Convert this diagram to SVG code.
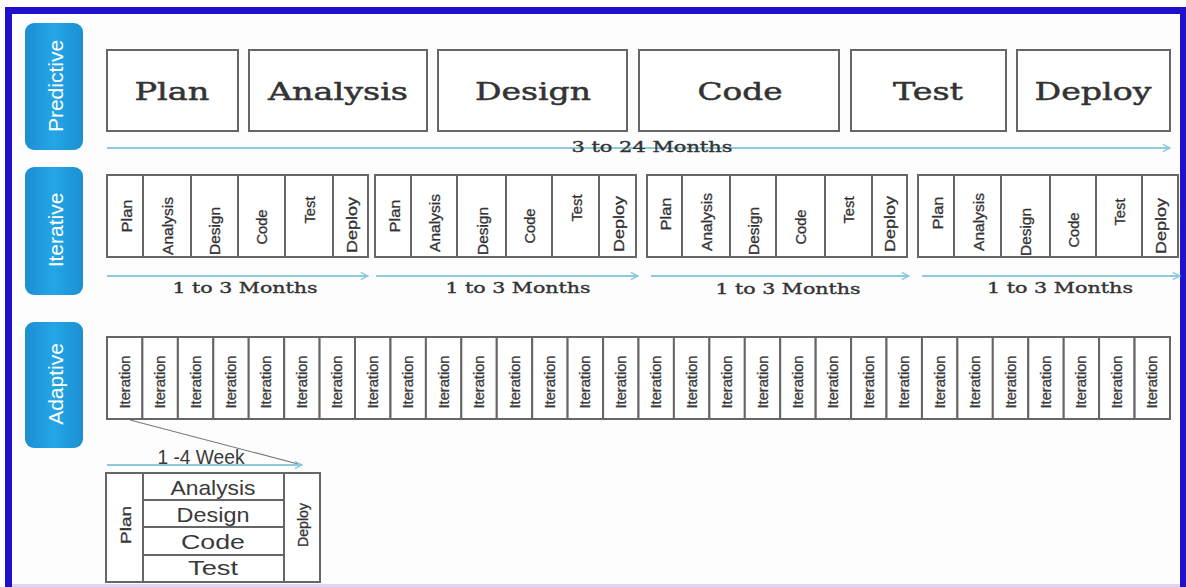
<svg xmlns="http://www.w3.org/2000/svg" width="1186" height="587" viewBox="0 0 1186 587">
  <defs>
    <linearGradient id="tabFill" x1="0" y1="0" x2="1" y2="0">
      <stop offset="0" stop-color="#1b8fd2"/>
      <stop offset="0.5" stop-color="#25a6e6"/>
      <stop offset="1" stop-color="#1b8fd2"/>
    </linearGradient>
    <marker id="chev" viewBox="0 0 10 10" refX="9" refY="5" markerWidth="9" markerHeight="9" markerUnits="userSpaceOnUse" orient="auto">
      <path d="M1,1 L9,5 L1,9" fill="none" stroke="#8ec9dc" stroke-width="1.6"/>
    </marker>
  </defs>
  <style>
    .tab { fill: url(#tabFill); }
    .tabtxt { font-family: "Liberation Sans", Arial, sans-serif; font-size: 21px; fill: #ffffff; text-anchor: middle; dominant-baseline: central; }
    .box { fill: #ffffff; stroke: #666666; stroke-width: 2; }
    .big { font-family: "DejaVu Serif", "Liberation Serif", serif; font-size: 25px; fill: #333333; stroke: #333333; stroke-width: 0.5; text-anchor: middle; }
    .dur { font-family: "DejaVu Serif", "Liberation Serif", serif; font-size: 15px; fill: #333333; stroke: #333333; stroke-width: 0.35; text-anchor: middle; }
    .vt { font-family: "Liberation Sans", Arial, sans-serif; font-size: 15px; fill: #333333; stroke: #333333; stroke-width: 0.3; text-anchor: middle; dominant-baseline: central; }
    .it { font-family: "Liberation Sans", Arial, sans-serif; font-size: 14px; fill: #3a3a3a; stroke: #3a3a3a; stroke-width: 0.3; text-anchor: middle; dominant-baseline: central; }
    .row { font-family: "Liberation Sans", Arial, sans-serif; font-size: 21px; fill: #3a3a3a; text-anchor: middle; }
    .flow { fill: none; stroke: #8ec9dc; stroke-width: 2; marker-end: url(#chev); }
    .diag { fill: none; stroke: #777777; stroke-width: 1.2; }
  </style>

  <!-- page and frame -->
  <rect x="0" y="0" width="1186" height="587" fill="#ffffff"/>
  <rect x="12" y="14" width="1168" height="570" fill="#fdfdfd"/>
  <rect x="5" y="7" width="1181" height="7" fill="#2010cc"/>
  <rect x="5" y="7" width="7" height="580" fill="#2010cc"/>
  <rect x="1180" y="7" width="6" height="580" fill="#2010cc"/>
  <rect x="12" y="584" width="1168" height="3" fill="#dcd6fa"/>

  <!-- row tabs -->
  <g id="tab-predictive">
    <rect class="tab" x="25" y="23" width="58" height="127" rx="9"/>
    <text class="tabtxt" transform="translate(55,86) rotate(-90)">Predictive</text>
  </g>
  <g id="tab-iterative">
    <rect class="tab" x="25" y="167" width="58" height="128" rx="9"/>
    <text class="tabtxt" transform="translate(55,230) rotate(-90)">Iterative</text>
  </g>
  <g id="tab-adaptive">
    <rect class="tab" x="25" y="322" width="58" height="126" rx="9"/>
    <text class="tabtxt" transform="translate(55,384) rotate(-90)">Adaptive</text>
  </g>

  <!-- predictive phases -->
  <g id="p-plan"><rect class="box" x="107" y="50" width="131" height="81"/><text class="big" x="172" y="100" textLength="75" lengthAdjust="spacingAndGlyphs">Plan</text></g>
  <g id="p-analysis"><rect class="box" x="249" y="50" width="178" height="81"/><text class="big" x="338" y="100" textLength="140" lengthAdjust="spacingAndGlyphs">Analysis</text></g>
  <g id="p-design"><rect class="box" x="438" y="50" width="189" height="81"/><text class="big" x="533" y="100" textLength="116" lengthAdjust="spacingAndGlyphs">Design</text></g>
  <g id="p-code"><rect class="box" x="639" y="50" width="200" height="81"/><text class="big" x="740" y="100" textLength="85" lengthAdjust="spacingAndGlyphs">Code</text></g>
  <g id="p-test"><rect class="box" x="851" y="50" width="155" height="81"/><text class="big" x="928" y="100" textLength="70" lengthAdjust="spacingAndGlyphs">Test</text></g>
  <g id="p-deploy"><rect class="box" x="1017" y="50" width="153" height="81"/><text class="big" x="1093" y="100" textLength="117" lengthAdjust="spacingAndGlyphs">Deploy</text></g>

  <!-- iterative cycles -->
  <g id="iter-1">
    <rect class="box" x="107" y="175" width="36" height="82"/><rect class="box" x="143" y="175" width="48" height="82"/><rect class="box" x="191" y="175" width="47" height="82"/><rect class="box" x="238" y="175" width="47" height="82"/><rect class="box" x="285" y="175" width="48" height="82"/><rect class="box" x="333" y="175" width="35" height="82"/>
    <text class="vt" transform="translate(126,216) rotate(-90)" textLength="33" lengthAdjust="spacingAndGlyphs">Plan</text>
    <text class="vt" transform="translate(167,226) rotate(-90)" textLength="58" lengthAdjust="spacingAndGlyphs">Analysis</text>
    <text class="vt" transform="translate(214,231) rotate(-90)" textLength="48" lengthAdjust="spacingAndGlyphs">Design</text>
    <text class="vt" transform="translate(261,227) rotate(-90)" textLength="35" lengthAdjust="spacingAndGlyphs">Code</text>
    <text class="vt" transform="translate(309,210) rotate(-90)" textLength="27" lengthAdjust="spacingAndGlyphs">Test</text>
    <text class="vt" transform="translate(351,225) rotate(-90)" textLength="56" lengthAdjust="spacingAndGlyphs">Deploy</text>
  </g>
  <g id="iter-2">
    <rect class="box" x="375" y="175" width="36" height="82"/><rect class="box" x="411" y="175" width="46" height="82"/><rect class="box" x="457" y="175" width="49" height="82"/><rect class="box" x="506" y="175" width="46" height="82"/><rect class="box" x="552" y="175" width="47" height="82"/><rect class="box" x="599" y="175" width="37" height="82"/>
    <text class="vt" transform="translate(394,216) rotate(-90)" textLength="33" lengthAdjust="spacingAndGlyphs">Plan</text>
    <text class="vt" transform="translate(434,223) rotate(-90)" textLength="58" lengthAdjust="spacingAndGlyphs">Analysis</text>
    <text class="vt" transform="translate(482,231) rotate(-90)" textLength="48" lengthAdjust="spacingAndGlyphs">Design</text>
    <text class="vt" transform="translate(529,226) rotate(-90)" textLength="35" lengthAdjust="spacingAndGlyphs">Code</text>
    <text class="vt" transform="translate(576,208) rotate(-90)" textLength="27" lengthAdjust="spacingAndGlyphs">Test</text>
    <text class="vt" transform="translate(618,224) rotate(-90)" textLength="56" lengthAdjust="spacingAndGlyphs">Deploy</text>
  </g>
  <g id="iter-3">
    <rect class="box" x="647" y="175" width="35" height="82"/><rect class="box" x="682" y="175" width="48" height="82"/><rect class="box" x="730" y="175" width="46" height="82"/><rect class="box" x="776" y="175" width="49" height="82"/><rect class="box" x="825" y="175" width="47" height="82"/><rect class="box" x="872" y="175" width="35" height="82"/>
    <text class="vt" transform="translate(665,214) rotate(-90)" textLength="33" lengthAdjust="spacingAndGlyphs">Plan</text>
    <text class="vt" transform="translate(706,222) rotate(-90)" textLength="58" lengthAdjust="spacingAndGlyphs">Analysis</text>
    <text class="vt" transform="translate(753,231) rotate(-90)" textLength="48" lengthAdjust="spacingAndGlyphs">Design</text>
    <text class="vt" transform="translate(800,227) rotate(-90)" textLength="35" lengthAdjust="spacingAndGlyphs">Code</text>
    <text class="vt" transform="translate(848,210) rotate(-90)" textLength="27" lengthAdjust="spacingAndGlyphs">Test</text>
    <text class="vt" transform="translate(889,224) rotate(-90)" textLength="56" lengthAdjust="spacingAndGlyphs">Deploy</text>
  </g>
  <g id="iter-4">
    <rect class="box" x="918" y="175" width="36" height="82"/><rect class="box" x="954" y="175" width="47" height="82"/><rect class="box" x="1001" y="175" width="49" height="82"/><rect class="box" x="1050" y="175" width="46" height="82"/><rect class="box" x="1096" y="175" width="46" height="82"/><rect class="box" x="1142" y="175" width="36" height="82"/>
    <text class="vt" transform="translate(937,213) rotate(-90)" textLength="33" lengthAdjust="spacingAndGlyphs">Plan</text>
    <text class="vt" transform="translate(978,222) rotate(-90)" textLength="58" lengthAdjust="spacingAndGlyphs">Analysis</text>
    <text class="vt" transform="translate(1025,232) rotate(-90)" textLength="48" lengthAdjust="spacingAndGlyphs">Design</text>
    <text class="vt" transform="translate(1073,230) rotate(-90)" textLength="35" lengthAdjust="spacingAndGlyphs">Code</text>
    <text class="vt" transform="translate(1119,212) rotate(-90)" textLength="27" lengthAdjust="spacingAndGlyphs">Test</text>
    <text class="vt" transform="translate(1160,226) rotate(-90)" textLength="56" lengthAdjust="spacingAndGlyphs">Deploy</text>
  </g>

  <!-- adaptive iterations -->
  <g id="adaptive-iterations">
    <g id="it-01"><rect class="box" x="107.0" y="337" width="35.4" height="82"/><text class="it" transform="translate(124.7,382) rotate(-90)" textLength="53" lengthAdjust="spacingAndGlyphs">Iteration</text></g>
    <g id="it-02"><rect class="box" x="142.4" y="337" width="35.4" height="82"/><text class="it" transform="translate(160.1,382) rotate(-90)" textLength="53" lengthAdjust="spacingAndGlyphs">Iteration</text></g>
    <g id="it-03"><rect class="box" x="177.9" y="337" width="35.4" height="82"/><text class="it" transform="translate(195.6,382) rotate(-90)" textLength="53" lengthAdjust="spacingAndGlyphs">Iteration</text></g>
    <g id="it-04"><rect class="box" x="213.3" y="337" width="35.4" height="82"/><text class="it" transform="translate(231.0,382) rotate(-90)" textLength="53" lengthAdjust="spacingAndGlyphs">Iteration</text></g>
    <g id="it-05"><rect class="box" x="248.7" y="337" width="35.4" height="82"/><text class="it" transform="translate(266.4,382) rotate(-90)" textLength="53" lengthAdjust="spacingAndGlyphs">Iteration</text></g>
    <g id="it-06"><rect class="box" x="284.2" y="337" width="35.4" height="82"/><text class="it" transform="translate(301.9,382) rotate(-90)" textLength="53" lengthAdjust="spacingAndGlyphs">Iteration</text></g>
    <g id="it-07"><rect class="box" x="319.6" y="337" width="35.4" height="82"/><text class="it" transform="translate(337.3,382) rotate(-90)" textLength="53" lengthAdjust="spacingAndGlyphs">Iteration</text></g>
    <g id="it-08"><rect class="box" x="355.0" y="337" width="35.4" height="82"/><text class="it" transform="translate(372.7,382) rotate(-90)" textLength="53" lengthAdjust="spacingAndGlyphs">Iteration</text></g>
    <g id="it-09"><rect class="box" x="390.5" y="337" width="35.4" height="82"/><text class="it" transform="translate(408.2,382) rotate(-90)" textLength="53" lengthAdjust="spacingAndGlyphs">Iteration</text></g>
    <g id="it-10"><rect class="box" x="425.9" y="337" width="35.4" height="82"/><text class="it" transform="translate(443.6,382) rotate(-90)" textLength="53" lengthAdjust="spacingAndGlyphs">Iteration</text></g>
    <g id="it-11"><rect class="box" x="461.3" y="337" width="35.4" height="82"/><text class="it" transform="translate(479.0,382) rotate(-90)" textLength="53" lengthAdjust="spacingAndGlyphs">Iteration</text></g>
    <g id="it-12"><rect class="box" x="496.8" y="337" width="35.4" height="82"/><text class="it" transform="translate(514.5,382) rotate(-90)" textLength="53" lengthAdjust="spacingAndGlyphs">Iteration</text></g>
    <g id="it-13"><rect class="box" x="532.2" y="337" width="35.4" height="82"/><text class="it" transform="translate(549.9,382) rotate(-90)" textLength="53" lengthAdjust="spacingAndGlyphs">Iteration</text></g>
    <g id="it-14"><rect class="box" x="567.6" y="337" width="35.4" height="82"/><text class="it" transform="translate(585.3,382) rotate(-90)" textLength="53" lengthAdjust="spacingAndGlyphs">Iteration</text></g>
    <g id="it-15"><rect class="box" x="603.1" y="337" width="35.4" height="82"/><text class="it" transform="translate(620.8,382) rotate(-90)" textLength="53" lengthAdjust="spacingAndGlyphs">Iteration</text></g>
    <g id="it-16"><rect class="box" x="638.5" y="337" width="35.4" height="82"/><text class="it" transform="translate(656.2,382) rotate(-90)" textLength="53" lengthAdjust="spacingAndGlyphs">Iteration</text></g>
    <g id="it-17"><rect class="box" x="673.9" y="337" width="35.4" height="82"/><text class="it" transform="translate(691.6,382) rotate(-90)" textLength="53" lengthAdjust="spacingAndGlyphs">Iteration</text></g>
    <g id="it-18"><rect class="box" x="709.4" y="337" width="35.4" height="82"/><text class="it" transform="translate(727.1,382) rotate(-90)" textLength="53" lengthAdjust="spacingAndGlyphs">Iteration</text></g>
    <g id="it-19"><rect class="box" x="744.8" y="337" width="35.4" height="82"/><text class="it" transform="translate(762.5,382) rotate(-90)" textLength="53" lengthAdjust="spacingAndGlyphs">Iteration</text></g>
    <g id="it-20"><rect class="box" x="780.2" y="337" width="35.4" height="82"/><text class="it" transform="translate(797.9,382) rotate(-90)" textLength="53" lengthAdjust="spacingAndGlyphs">Iteration</text></g>
    <g id="it-21"><rect class="box" x="815.7" y="337" width="35.4" height="82"/><text class="it" transform="translate(833.4,382) rotate(-90)" textLength="53" lengthAdjust="spacingAndGlyphs">Iteration</text></g>
    <g id="it-22"><rect class="box" x="851.1" y="337" width="35.4" height="82"/><text class="it" transform="translate(868.8,382) rotate(-90)" textLength="53" lengthAdjust="spacingAndGlyphs">Iteration</text></g>
    <g id="it-23"><rect class="box" x="886.5" y="337" width="35.4" height="82"/><text class="it" transform="translate(904.2,382) rotate(-90)" textLength="53" lengthAdjust="spacingAndGlyphs">Iteration</text></g>
    <g id="it-24"><rect class="box" x="922.0" y="337" width="35.4" height="82"/><text class="it" transform="translate(939.7,382) rotate(-90)" textLength="53" lengthAdjust="spacingAndGlyphs">Iteration</text></g>
    <g id="it-25"><rect class="box" x="957.4" y="337" width="35.4" height="82"/><text class="it" transform="translate(975.1,382) rotate(-90)" textLength="53" lengthAdjust="spacingAndGlyphs">Iteration</text></g>
    <g id="it-26"><rect class="box" x="992.8" y="337" width="35.4" height="82"/><text class="it" transform="translate(1010.5,382) rotate(-90)" textLength="53" lengthAdjust="spacingAndGlyphs">Iteration</text></g>
    <g id="it-27"><rect class="box" x="1028.3" y="337" width="35.4" height="82"/><text class="it" transform="translate(1046.0,382) rotate(-90)" textLength="53" lengthAdjust="spacingAndGlyphs">Iteration</text></g>
    <g id="it-28"><rect class="box" x="1063.7" y="337" width="35.4" height="82"/><text class="it" transform="translate(1081.4,382) rotate(-90)" textLength="53" lengthAdjust="spacingAndGlyphs">Iteration</text></g>
    <g id="it-29"><rect class="box" x="1099.1" y="337" width="35.4" height="82"/><text class="it" transform="translate(1116.8,382) rotate(-90)" textLength="53" lengthAdjust="spacingAndGlyphs">Iteration</text></g>
    <g id="it-30"><rect class="box" x="1134.6" y="337" width="35.4" height="82"/><text class="it" transform="translate(1152.3,382) rotate(-90)" textLength="53" lengthAdjust="spacingAndGlyphs">Iteration</text></g>
  </g>

  <!-- one iteration in detail -->
  <g id="iteration-detail">
    <rect class="box" x="106" y="473" width="37" height="109"/>
    <rect class="box" x="143" y="473" width="141" height="27"/>
    <rect class="box" x="143" y="500" width="141" height="27"/>
    <rect class="box" x="143" y="527" width="141" height="28"/>
    <rect class="box" x="143" y="555" width="141" height="27"/>
    <rect class="box" x="284" y="473" width="36" height="109"/>
    <text class="vt" transform="translate(125,525) rotate(-90)" textLength="38" lengthAdjust="spacingAndGlyphs">Plan</text>
    <text class="vt" transform="translate(302,525) rotate(-90)" textLength="44" lengthAdjust="spacingAndGlyphs">Deploy</text>
    <text class="row" x="213" y="495" textLength="85" lengthAdjust="spacingAndGlyphs">Analysis</text>
    <text class="row" x="213" y="522" textLength="73" lengthAdjust="spacingAndGlyphs">Design</text>
    <text class="row" x="213" y="549" textLength="64" lengthAdjust="spacingAndGlyphs">Code</text>
    <text class="row" x="213" y="575" textLength="50" lengthAdjust="spacingAndGlyphs">Test</text>
  </g>

  <!-- time-span connectors -->
  <g id="connectors">
    <line class="flow" x1="107" y1="148" x2="1170" y2="148"/>
    <line class="flow" x1="107" y1="276" x2="368" y2="276"/>
    <line class="flow" x1="376" y1="276" x2="638" y2="276"/>
    <line class="flow" x1="651" y1="276" x2="909" y2="276"/>
    <line class="flow" x1="922" y1="276" x2="1180" y2="276"/>
    <line class="diag" x1="130" y1="420" x2="298" y2="464"/>
    <line class="flow" x1="107" y1="465" x2="302" y2="465"/>
  </g>

  <!-- durations -->
  <g id="durations">
    <text class="dur" x="652" y="152" font-size="16" textLength="161" lengthAdjust="spacingAndGlyphs">3 to 24 Months</text>
    <text class="dur" x="245" y="293" textLength="145" lengthAdjust="spacingAndGlyphs">1 to 3 Months</text>
    <text class="dur" x="518" y="293" textLength="145" lengthAdjust="spacingAndGlyphs">1 to 3 Months</text>
    <text class="dur" x="788" y="294" textLength="145" lengthAdjust="spacingAndGlyphs">1 to 3 Months</text>
    <text class="dur" x="1060" y="293" textLength="146" lengthAdjust="spacingAndGlyphs">1 to 3 Months</text>
    <text class="row" x="201" y="464" font-size="16" textLength="87" lengthAdjust="spacingAndGlyphs">1 -4 Week</text>
  </g>
</svg>
